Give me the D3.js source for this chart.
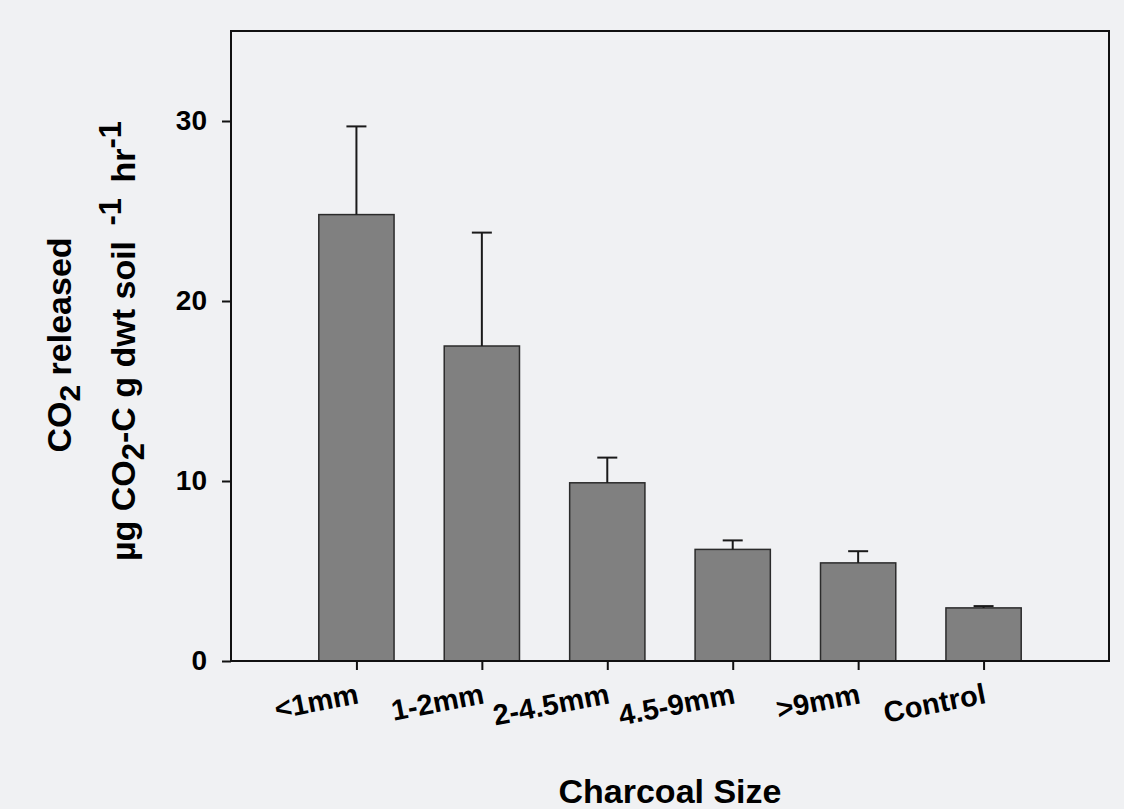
<!DOCTYPE html>
<html>
<head>
<meta charset="utf-8">
<script src="https://cdn.jsdelivr.net/npm/d3@7/dist/d3.min.js"></script>
<style>
  body { margin: 0; background: #f0f1f3; }
  svg { display: block; font-family: "Liberation Sans", Arial, sans-serif; font-weight: bold; }
</style>
</head>
<body>
<svg id="chart_1" width="1124" height="809"></svg>
<script>
// charcoal size classes and CO2 release (mean + upper error)
var categories = ['<1mm', '1-2mm', '2-4.5mm', '4.5-9mm', '>9mm', 'Control'];
var means = [24.8, 17.5, 9.9, 6.2, 5.45, 2.95];
var errors = [4.9, 6.3, 1.4, 0.5, 0.65, 0.1];
var yTicks = [0, 10, 20, 30];

var data = categories.map(function (c, i) {
    return { cat: c, mean: means[i], err: errors[i] };
});

make_bar_chart(data);

function make_bar_chart(data) {
    var svg = d3.select("#chart_1"),
        margin = { top: 31, right: 15, bottom: 148, left: 231 },
        width = +svg.attr("width") - margin.left - margin.right,
        height = +svg.attr("height") - margin.top - margin.bottom,
        g = svg.append("g").attr("transform", "translate(" + margin.left + "," + margin.top + ")");

    var x = d3.scalePoint()
        .domain(categories)
        .range([0, width])
        .padding(1);

    var y = d3.scaleLinear()
        .domain([0, 35])
        .range([height, 0]);

    var barW = x.step() * 0.6;

    // bars
    g.append("g")
        .selectAll("rect")
        .data(data)
        .enter().append("rect")
        .attr("x", function (d) { return x(d.cat) - barW / 2; })
        .attr("y", function (d) { return y(d.mean); })
        .attr("width", barW)
        .attr("height", function (d) { return y(0) - y(d.mean); })
        .attr("fill", "#808080")
        .attr("stroke", "#2b2b2b")
        .attr("stroke-width", 1.5);

    // error bars (upper only)
    var eb = g.append("g").attr("stroke", "#1a1a1a").attr("stroke-width", 2);
    eb.selectAll("line.v")
        .data(data)
        .enter().append("line")
        .attr("class", "v")
        .attr("x1", function (d) { return x(d.cat); })
        .attr("x2", function (d) { return x(d.cat); })
        .attr("y1", function (d) { return y(d.mean); })
        .attr("y2", function (d) { return y(d.mean + d.err); });
    eb.selectAll("line.c")
        .data(data)
        .enter().append("line")
        .attr("class", "c")
        .attr("x1", function (d) { return x(d.cat) - 10; })
        .attr("x2", function (d) { return x(d.cat) + 10; })
        .attr("y1", function (d) { return y(d.mean + d.err); })
        .attr("y2", function (d) { return y(d.mean + d.err); });

    // frame
    g.append("rect")
        .attr("width", width)
        .attr("height", height)
        .attr("fill", "none")
        .attr("stroke", "#111")
        .attr("stroke-width", 2);

    // y axis
    var yAxis = g.append("g")
        .call(d3.axisLeft(y).tickValues(yTicks).tickSize(9).tickPadding(15));
    yAxis.select(".domain").remove();
    yAxis.selectAll("line").attr("stroke", "#111").attr("stroke-width", 2);
    yAxis.selectAll("text")
        .attr("font-size", "28px")
        .attr("font-family", "Liberation Sans, Arial, sans-serif")
        .attr("font-weight", "bold")
        .attr("fill", "#000");

    // x axis
    var xAxis = g.append("g")
        .attr("transform", "translate(0," + height + ")")
        .call(d3.axisBottom(x).tickSize(9));
    xAxis.select(".domain").remove();
    xAxis.selectAll("line").attr("stroke", "#111").attr("stroke-width", 2);
    xAxis.selectAll("text")
        .attr("font-size", "29px")
        .attr("font-family", "Liberation Sans, Arial, sans-serif")
        .attr("font-weight", "bold")
        .attr("fill", "#000")
        .attr("text-anchor", "end")
        .attr("dy", null)
        .attr("y", 0)
        .attr("transform", "translate(3,42) rotate(-11)");

    // x title
    svg.append("text")
        .attr("x", 670)
        .attr("y", 803)
        .attr("text-anchor", "middle")
        .attr("font-size", "34px")
        .text("Charcoal Size");

    // y title (two lines)
    var t1 = svg.append("text")
        .attr("transform", "translate(71,345) rotate(-90)")
        .attr("text-anchor", "middle")
        .attr("font-size", "34px");
    t1.append("tspan").text("CO");
    t1.append("tspan").attr("font-size", "30px").attr("dy", 9).text("2");
    t1.append("tspan").attr("dy", -9).text(" released");

    var t2 = svg.append("text")
        .attr("transform", "translate(135,341) rotate(-90)")
        .attr("text-anchor", "middle")
        .attr("font-size", "34px");
    t2.append("tspan").text("µg CO");
    t2.append("tspan").attr("font-size", "31px").attr("dy", 9).text("2");
    t2.append("tspan").attr("dy", -9).text("-C g dwt soil ");
    t2.append("tspan").attr("font-size", "31px").attr("dy", -14).attr("dx", 6).text("-1");
    t2.append("tspan").attr("dy", 14).attr("dx", 6).text(" hr");
    t2.append("tspan").attr("font-size", "31px").attr("dy", -14).text("-1");
}
</script>
</body>
</html>
